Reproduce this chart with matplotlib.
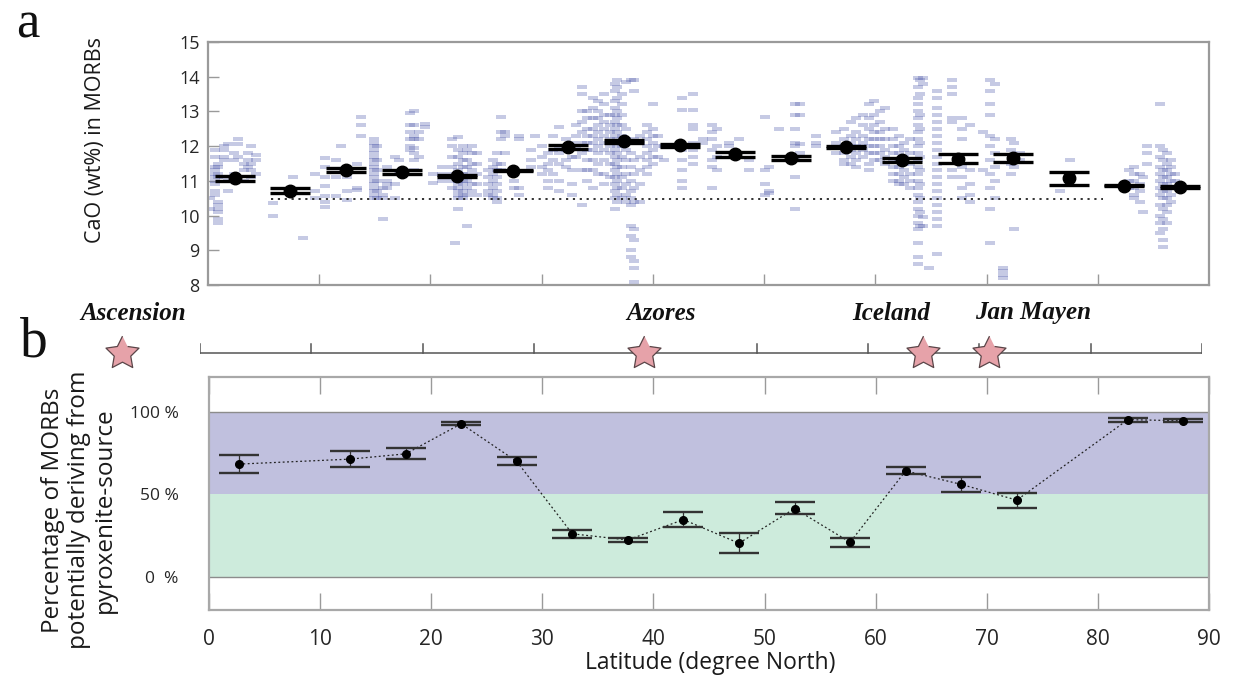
import matplotlib
matplotlib.use('Agg')
import matplotlib.pyplot as plt
import numpy as np

# ---------------- data ----------------
# panel a: individual MORB CaO analyses, grouped in columns (latitude, CaO values)
col_lat = [0.2, 0.6, 0.9, 1.4, 1.8, 2.3, 2.7, 3.2, 3.6, 3.9, 4.3,
           5.8, 7.6, 8.5, 9.6, 10.5,
           11.5, 12.0, 12.5, 13.4, 13.8, 14.9, 15.2, 15.7, 16.1, 16.8, 17.2, 18.2,
           18.5, 19.0, 19.5, 20.2,
           21.0, 21.9, 22.2, 22.5, 22.9, 23.3, 23.7, 24.2,
           25.2, 25.6, 26.0, 26.3, 26.7, 27.5, 28.0, 29.0, 29.4,
           30.0, 30.6, 31.0, 31.6, 32.2, 32.7, 33.1,
           33.6, 34.1, 34.6, 35.1, 35.6, 36.1, 36.6, 36.8, 37.2, 37.6, 38.0, 38.3, 38.8,
           39.5, 40.0, 40.5, 41.0, 42.6, 43.6, 44.5,
           45.3, 45.8, 46.8, 47.7, 48.6,
           50.1, 50.4, 51.3, 52.8, 53.2, 54.7,
           56.5, 57.2, 57.8, 58.3, 58.9, 59.4, 59.9, 60.4, 60.9,
           61.6, 62.1, 62.6, 63.1, 63.8, 64.0, 64.3, 64.8, 65.5,
           66.9, 67.8, 68.5, 69.7,
           70.3, 70.8, 71.5, 72.2, 72.5, 73.0,
           76.6, 77.5,
           82.8, 83.3, 83.8, 84.1, 84.4,
           85.6, 85.9, 86.2, 86.6, 86.9]
col_cao = [
    [10.5, 10.2],
    [11.9, 11.7, 11.4, 11.3, 11.2, 11.1, 11.0, 10.9, 10.7, 10.6],
    [11.5, 11.4, 11.2, 11.1, 10.4, 10.3, 10.2, 10.1, 9.9, 9.8],
    [12.0, 11.9, 11.7, 11.6, 11.1],
    [12.05, 11.0, 10.7],
    [11.8, 11.6, 11.2],
    [12.2, 12.05, 11.7],
    [11.5, 11.3, 11.0],
    [11.8, 11.6, 11.4],
    [12.0, 11.5, 11.3, 11.1],
    [11.75, 11.6, 11.2],
    [10.35, 10.0],
    [11.1],
    [9.35],
    [11.2, 10.7, 10.5],
    [11.65, 11.4, 11.1, 10.85, 10.55, 10.4, 10.25],
    [11.6, 11.1, 10.55],
    [12.0],
    [11.1, 10.7, 10.45],
    [11.5, 10.8, 10.75],
    [12.85, 12.6, 12.3],
    [12.2, 12.1, 12.0, 11.9, 11.8, 11.7, 11.6, 11.5, 11.4, 11.3, 11.2, 11.1, 11.0, 10.9, 10.8, 10.7, 10.6, 10.5],
    [12.0, 11.6, 11.3, 11.0, 10.7, 10.5],
    [10.8, 10.6, 10.5, 9.9],
    [11.4, 11.0, 10.9, 10.8],
    [11.7, 10.9, 10.5],
    [11.6, 11.2],
    [12.95, 12.6, 12.4, 12.2, 12.0, 11.9],
    [13.0, 12.6, 12.3, 12.2, 11.95, 11.8, 11.6, 11.3],
    [12.4, 12.2, 11.7],
    [12.65, 12.55],
    [11.2, 10.95],
    [11.4, 11.2, 11.0],
    [12.2, 12.0, 11.7, 11.4, 11.2, 11.0, 10.8],
    [9.2],
    [12.27, 11.9, 11.7, 11.5, 11.3, 11.2, 11.1, 11.0, 10.9, 10.8, 10.7, 10.6, 10.5, 10.2],
    [12.0, 11.8, 11.6, 11.4, 11.2, 11.0, 10.9, 10.7, 10.6, 10.5],
    [11.9, 11.6, 11.4, 11.2, 11.0, 10.8, 10.6, 9.7],
    [12.0, 11.8, 11.5, 11.3, 11.1, 10.9, 10.7],
    [11.8, 11.5, 11.2, 10.9, 10.6],
    [11.3, 11.1, 10.9, 10.7, 10.6],
    [11.6, 11.4, 11.2, 11.0, 10.8, 10.6, 10.5],
    [11.8, 11.5, 11.3, 11.1, 10.9, 10.7, 10.5, 10.4],
    [12.85, 12.4, 12.2, 11.5, 11.3],
    [12.3, 12.4, 11.8],
    [11.3, 11.0, 10.8],
    [12.3, 12.2, 10.8, 10.6],
    [11.9, 11.6, 11.4],
    [12.3],
    [12.0, 11.7, 11.4, 11.2],
    [11.8, 11.5, 11.3, 11.0, 10.8],
    [12.3, 11.9, 11.6, 11.2],
    [12.54, 12.0, 11.8, 11.5, 11.0, 10.7],
    [12.2, 11.9, 11.6, 11.4],
    [12.1, 11.7, 11.3, 10.9, 10.6],
    [12.6, 12.3, 12.0, 11.7],
    [13.7, 13.5, 13.0, 12.7, 12.4, 12.1, 11.8, 11.3, 10.3],
    [13.0, 12.8, 12.5, 12.3, 12.1, 11.9, 11.6, 11.3, 11.0],
    [13.4, 13.1, 12.8, 12.5, 12.3, 12.1, 11.9, 11.6, 11.3, 10.8],
    [13.3, 13.0, 12.8, 12.6, 12.4, 12.2, 12.0, 11.8, 11.5, 11.2],
    [13.5, 13.2, 12.9, 12.7, 12.5, 12.3, 12.1, 11.9, 11.6, 11.2, 10.9],
    [12.9, 12.6, 12.4, 12.2, 12.0, 11.8, 11.5, 11.1],
    [13.8, 13.6, 13.3, 13.1, 12.9, 12.7, 12.5, 12.3, 12.1, 11.9, 11.7, 11.5, 11.3, 11.1, 10.9, 10.7, 10.5, 10.2],
    [13.9, 13.7, 13.4, 13.0, 12.8, 12.6, 12.4, 12.2, 12.0, 11.8, 11.6, 11.4, 11.2, 11.0, 10.8, 10.6, 10.4],
    [13.5, 13.2, 12.9, 12.6, 12.3, 12.0, 11.7, 11.4, 11.1, 10.8, 10.5],
    [13.85, 12.5, 12.2, 11.9, 11.6, 11.2, 10.9, 10.6, 10.4],
    [13.9, 11.8, 11.4, 11.0, 10.7, 10.5, 10.3, 9.7, 9.4, 9.0, 8.8],
    [13.9, 13.6, 12.2, 11.6, 11.2, 10.8, 10.4, 9.6, 9.3, 8.7, 8.5, 8.1],
    [12.3, 12.1, 11.7, 11.3, 10.9, 10.4],
    [12.6, 12.4, 12.2, 12.0, 11.8, 11.6, 11.4, 11.2],
    [13.2, 12.5, 12.3, 12.1, 11.9, 11.7, 11.5],
    [12.3, 12.0, 11.7],
    [12.0, 11.6],
    [13.4, 13.05, 11.9, 11.6, 11.3, 11.0, 10.8],
    [13.5, 13.05, 12.6, 12.5, 12.1, 11.9, 11.7, 11.5],
    [12.2, 12.1],
    [12.6, 12.4, 12.2, 11.9, 11.6, 11.4, 10.8],
    [12.5, 12.0, 11.7, 11.3],
    [12.1, 12.0],
    [12.2],
    [11.6, 11.3],
    [12.85, 11.3, 10.9, 10.6],
    [11.4, 10.7, 10.65],
    [12.5],
    [13.2, 12.9, 12.5, 12.1, 12.0, 11.7, 11.1, 10.2],
    [13.2, 12.9, 12.05, 11.8],
    [12.3, 12.1, 12.0],
    [12.4, 12.1, 11.8],
    [12.5, 12.2, 12.0, 11.8, 11.6, 11.5],
    [12.7, 12.3, 12.1, 11.9, 11.7, 11.5],
    [12.8, 12.4, 12.2, 12.0, 11.8, 11.6, 11.4],
    [12.9, 12.6, 12.3, 12.1, 11.9, 11.7],
    [13.2, 12.8, 12.5, 12.2, 12.0, 11.8, 11.5, 11.3],
    [13.3, 12.9, 12.6, 12.4, 12.2, 12.0, 11.8, 11.6],
    [13.0, 12.7, 12.4, 12.2, 12.0, 11.8, 11.6],
    [13.1, 12.5, 12.2, 11.9, 11.7, 11.5],
    [12.5, 12.2, 12.0, 11.8, 11.6, 11.4, 11.2, 11.0],
    [12.3, 12.0, 11.8, 11.6, 11.4, 11.2, 11.0, 10.9],
    [12.1, 11.9, 11.7, 11.5, 11.3, 11.1, 10.9],
    [12.2, 11.8, 11.5, 11.2, 11.0, 10.8],
    [13.95, 13.7, 13.4, 13.2, 13.0, 12.8, 12.6, 12.4, 12.2, 12.0, 11.8, 11.6, 11.4, 11.2, 11.0, 10.8, 10.6, 10.4, 10.2, 10.0, 9.8, 9.6, 9.2, 8.8, 8.6],
    [13.9, 13.5, 12.9, 12.5, 12.1, 11.7, 11.3, 10.9, 10.5, 10.1, 9.7],
    [13.95, 13.8, 9.95, 9.7],
    [8.5],
    [13.6, 13.4, 13.1, 12.9, 12.7, 12.5, 12.3, 12.1, 11.9, 11.7, 11.5, 11.3, 11.1, 10.9, 10.7, 10.5, 10.3, 10.1, 9.9, 9.7, 8.9],
    [13.9, 13.7, 13.5, 12.8, 12.7, 11.3, 11.1],
    [12.8, 12.5, 12.2, 11.4, 11.1, 10.8, 10.5],
    [12.6, 11.3, 10.9, 10.6, 10.4],
    [12.4, 11.3],
    [13.9, 13.6, 13.2, 12.9, 12.3, 12.0, 11.6, 11.2, 10.8, 10.2, 9.2],
    [13.8, 12.2, 11.8, 11.4, 11.0, 10.5],
    [8.5, 8.4, 8.3, 8.2],
    [12.2, 11.9, 11.5, 11.2],
    [12.1, 11.7, 11.4, 9.6],
    [11.8, 11.6],
    [10.7],
    [11.6],
    [11.3, 11.0, 10.8],
    [11.4, 11.2, 11.0, 10.8, 10.6, 10.5],
    [11.2, 10.9, 10.7, 10.4],
    [11.1, 10.1],
    [12.0, 11.8, 11.5],
    [13.2, 12.0, 11.7, 11.4, 11.2, 11.0, 10.8, 10.6, 10.3, 10.0, 9.8, 9.5],
    [11.9, 11.6, 11.3, 11.1, 10.9, 10.7, 10.5, 10.2, 9.9, 9.6, 9.3, 9.1],
    [11.8, 11.5, 11.3, 11.1, 10.9, 10.7, 10.5, 10.3, 10.1, 9.8],
    [11.6, 11.4, 11.2, 11.0, 10.8, 10.6, 10.4],
    [11.2, 11.0, 10.8],
]

# panel a: bin means of CaO with error (upper/lower lines)
mean_lat = [2.4, 7.4, 12.4, 17.4, 22.4, 27.4, 32.4, 37.4, 42.4, 47.4, 52.4, 57.4,
            62.4, 67.4, 72.4, 77.4, 82.4, 87.4]
mean_cao = [11.07, 10.72, 11.31, 11.25, 11.14, 11.29, 11.98, 12.14, 12.02, 11.76,
            11.66, 11.98, 11.61, 11.64, 11.66, 11.07, 10.86, 10.82]
mean_err = [0.07, 0.07, 0.065, 0.055, 0.02, 0.02, 0.06, 0.05, 0.045, 0.065,
            0.065, 0.02, 0.06, 0.125, 0.12, 0.175, 0.02, 0.02]
ref_line_cao = 10.47
ref_line_lat = [5.7, 80.5]

# hotspots
hot_names = ['Ascension', 'Azores', 'Iceland', 'Jan Mayen']
hot_lat = [-7.0, 39.9, 64.9, 70.9]
hot_label_lat = [-6.0, 41.4, 62.1, 74.8]

# panel b: percentage of MORBs deriving from pyroxenite source
pct_lat = [2.7, 12.7, 17.7, 22.7, 27.7, 32.7, 37.7, 42.7, 47.7, 52.7, 57.7, 62.7,
           67.7, 72.7, 82.7, 87.7]
pct_val = [68.3, 71.3, 74.5, 92.7, 69.9, 26.1, 22.4, 34.7, 20.4, 41.4, 21.0, 64.2,
           56.0, 46.5, 95.2, 94.5]
pct_hi = [73.7, 76.2, 77.8, 93.9, 72.3, 28.3, 23.8, 39.2, 26.7, 45.3, 23.8, 66.3,
          60.4, 51.1, 96.4, 95.4]
pct_lo = [62.8, 66.5, 71.1, 91.7, 67.5, 23.8, 21.0, 30.5, 14.3, 37.8, 18.2, 62.2,
          51.5, 41.8, 93.9, 93.5]
pct_ticks = [0, 50, 100]
pct_ticklabels = ['0  %', '50 %', '100 %']
lat_ticks = [0, 10, 20, 30, 40, 50, 60, 70, 80, 90]

# ---------------- figure ----------------
W, H = 1233, 684
fig = plt.figure(figsize=(W / 100, H / 100), dpi=100)
SANS = ['Open Sans', 'DejaVu Sans']


def fx(px):
    return px / W


def fy(py):
    return 1 - py / H


spine_col = '#9a9a9a'
tick_col = '#262626'

# ---- panel a ----
ax1 = fig.add_axes([fx(208), fy(285), (1209 - 208) / W, (285 - 42) / H])
sx, sy = [], []
for la, vals in zip(col_lat, col_cao):
    for v in vals:
        sx.append(la)
        sy.append(v)
dash = [(-1, -0.45), (1, -0.45), (1, 0.45), (-1, 0.45), (-1, -0.45)]
ax1.scatter(sx, sy, marker=dash, s=52, color=(0.33, 0.37, 0.68), alpha=0.33,
            linewidths=0, zorder=2)
ax1.plot(ref_line_lat, [ref_line_cao, ref_line_cao], color='#222222', lw=1.3,
         linestyle=(0, (1.2, 2.6)), zorder=3)
ax1.errorbar(mean_lat, mean_cao, yerr=mean_err, fmt='o', color='black', ms=9,
             ecolor='black', elinewidth=0, capsize=14.5, capthick=2.4, zorder=4)
ax1.set_xlim(0, 90)
ax1.set_ylim(8, 15)
ax1.set_yticks(range(8, 16))
ax1.set_xticks(lat_ticks[1:-1])
ax1.set_xticklabels([])
ax1.tick_params(axis='y', direction='in', length=8, width=1, color=spine_col,
                labelsize=13, labelcolor=tick_col, pad=6)
ax1.tick_params(axis='x', direction='in', length=8, width=1, color=spine_col)
for sp in ax1.spines.values():
    sp.set_color(spine_col)
    sp.set_linewidth(1.6)
for lab in ax1.get_yticklabels():
    lab.set_family(SANS)

# ---- hotspot strip ----
axs = fig.add_axes([fx(200), fy(395), (1202 - 200) / W, (395 - 290) / H])
axs.set_xlim(0, 90)
axs.set_ylim(395, 290)
axs.axis('off')
axs.plot([0, 90], [352.5, 352.5], color='#555555', lw=1.1, zorder=1)
for t in lat_ticks:
    axs.plot([t, t], [352.5, 344], color='#555555', lw=1.1, zorder=1)
ang = np.pi / 2 + np.arange(10) * np.pi / 5
rad = np.where(np.arange(10) % 2 == 0, 1.0, 0.5)
star = np.column_stack([rad * np.cos(ang), rad * np.sin(ang)])
axs.scatter(hot_lat, [353] * len(hot_lat), marker=star, s=25 ** 2,
            color='#e6a2a9', edgecolors='#5a4548', linewidths=0.9, zorder=3,
            clip_on=False)
for name, la in zip(hot_names, hot_label_lat):
    axs.text(la, 313, name, ha='center', va='center', fontsize=18,
             family='Liberation Serif', weight='bold', style='italic',
             color='#111111', clip_on=False)

# ---- panel b ----
ax2 = fig.add_axes([fx(209), fy(610), (1209 - 209) / W, (610 - 377) / H])
ax2.axhspan(50, 100, color='#c0c0de', lw=0, zorder=0)
ax2.axhspan(0, 50, color='#cdebdc', lw=0, zorder=0)
ax2.axhline(100, color='#8c8c8c', lw=1.0, zorder=1)
ax2.axhline(0, color='#8c8c8c', lw=1.0, zorder=1)
ax2.plot(pct_lat, pct_val, color='#222222', lw=0.9, linestyle=(0, (1.5, 2)),
         zorder=3)
lo_err = np.array(pct_val) - np.array(pct_lo)
hi_err = np.array(pct_hi) - np.array(pct_val)
ax2.errorbar(pct_lat, pct_val, yerr=[lo_err, hi_err], fmt='o', color='black',
             ms=5.5, ecolor='#333333', elinewidth=0.9, capsize=14.5,
             capthick=1.7, zorder=4)
ax2.set_xlim(0, 90)
ax2.set_ylim(-20, 121)
ax2.set_xticks(lat_ticks)
ax2.set_xticklabels([str(t) for t in lat_ticks])
ax2.set_yticks(pct_ticks)
ax2.set_yticklabels(pct_ticklabels)
ax2.tick_params(axis='x', direction='in', length=12, width=1, color=spine_col,
                labelsize=15, labelcolor=tick_col, pad=14, top=True)
ax2.tick_params(axis='y', length=0, labelsize=12.5, labelcolor=tick_col, pad=22)
for lab in ax2.get_xticklabels() + ax2.get_yticklabels():
    lab.set_family(SANS)
for sp in ax2.spines.values():
    sp.set_color('#a8a8a8')
    sp.set_linewidth(1.6)

# ---- labels ----
fig.text(fx(96), fy(140), 'CaO (wt%) in MORBs', rotation=90, ha='center',
         va='center', fontsize=15.5, family=SANS, color='#1a1a1a')
fig.text(fx(79), fy(510), 'Percentage of MORBs\npotentially deriving from\npyroxenite-source',
         rotation=90, ha='center', va='center', multialignment='center',
         fontsize=17.5, family=SANS, color='#1a1a1a', linespacing=1.12)
fig.text(fx(710), fy(663), 'Latitude (degree North)', ha='center', va='center',
         fontsize=16.5, family=SANS, color='#1a1a1a')
fig.text(fx(28), fy(37), 'a', ha='center', va='baseline', fontsize=38,
         family='Liberation Serif', color='#111111')
fig.text(fx(34), fy(357), 'b', ha='center', va='baseline', fontsize=40,
         family='Liberation Serif', color='#111111')

fig.savefig('out.png', dpi=100)
